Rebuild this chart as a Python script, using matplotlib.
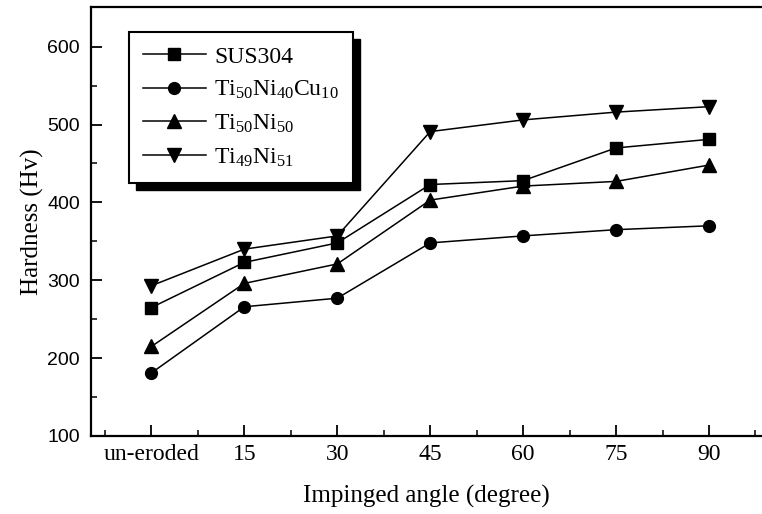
import matplotlib
matplotlib.use("Agg")
import matplotlib.pyplot as plt
from matplotlib.patches import Rectangle

plt.rcParams["font.family"] = "Liberation Serif"
plt.rcParams["mathtext.fontset"] = "custom"
plt.rcParams["mathtext.rm"] = "Liberation Serif"
plt.rcParams["mathtext.it"] = "Liberation Serif:italic"

### Data
angles = ["un-eroded", "15", "30", "45", "60", "75", "90"]
sus304 = [265, 323, 348, 423, 428, 470, 481]
ti50ni40cu10 = [181, 266, 277, 348, 357, 365, 370]
ti50ni50 = [215, 296, 321, 403, 421, 427, 448]
ti49ni51 = [293, 340, 357, 491, 506, 516, 523]

labels = ["SUS304",
          r"Ti$_{50}$Ni$_{40}$Cu$_{10}$",
          r"Ti$_{50}$Ni$_{50}$",
          r"Ti$_{49}$Ni$_{51}$"]

x = list(range(len(angles)))

fig = plt.figure(figsize=(7.62, 5.14), dpi=100)
ax = fig.add_axes([91 / 762, 78 / 514, 671 / 762, 429 / 514])

ax.plot(x, sus304, color="black", lw=1.1, marker="s", ms=8, label=labels[0])
ax.plot(x, ti50ni40cu10, color="black", lw=1.1, marker="o", ms=8.5, label=labels[1])
ax.plot(x, ti50ni50, color="black", lw=1.1, marker="^", ms=9.5, label=labels[2])
ax.plot(x, ti49ni51, color="black", lw=1.1, marker="v", ms=9.5, label=labels[3])

ax.set_xlim(-0.65, 6.57)
ax.set_ylim(100, 651)

ax.set_xticks(x)
ax.set_xticklabels(angles, fontsize=17)
ax.set_xticks([i - 0.5 for i in range(8)], minor=True)
ax.set_yticks([100, 200, 300, 400, 500, 600])
ax.set_yticks([150, 250, 350, 450, 550], minor=True)
for lab in ax.get_yticklabels():
    lab.set_fontfamily("Liberation Sans")
    lab.set_fontsize(14)

ax.tick_params(which="major", direction="in", length=8, width=1.3)
ax.tick_params(which="minor", direction="in", length=4, width=1.1)
ax.tick_params(axis="x", pad=6)
ax.tick_params(axis="y", pad=8)

for side in ["left", "bottom", "top"]:
    ax.spines[side].set_linewidth(1.6)
ax.spines["right"].set_visible(False)

ax.set_xlabel("Impinged angle (degree)", fontsize=18, labelpad=14)
ax.set_ylabel("Hardness (Hv)", fontsize=18, labelpad=2)

leg = ax.legend(loc="upper left", bbox_to_anchor=(0.0566, 0.9417), borderaxespad=0,
                fontsize=17, fancybox=False, edgecolor="black", framealpha=1,
                handlelength=2.65, handletextpad=0.35, borderpad=0.6, labelspacing=0.48)
leg.get_frame().set_linewidth(1.5)
leg.set_zorder(5)

### black drop shadow behind legend
fig.canvas.draw()
bb = leg.get_window_extent()
shadow = Rectangle((bb.x0 + 7, bb.y0 - 7), bb.width, bb.height, transform=None,
                   facecolor="black", edgecolor="black", zorder=4)
ax.add_artist(shadow)

fig.savefig("out.png", dpi=100)
